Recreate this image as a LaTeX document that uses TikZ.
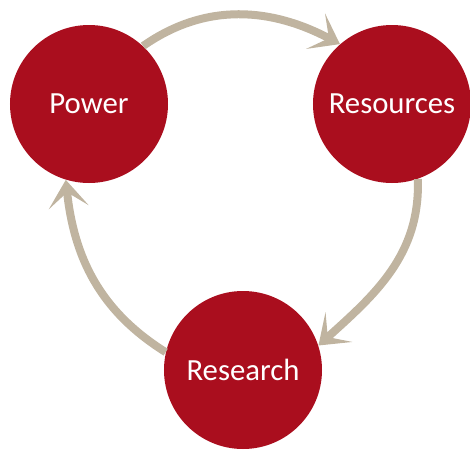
\documentclass[tikz,border=0pt]{standalone}
\usepackage{fontspec}
\setmainfont{Carlito}
\usetikzlibrary{arrows.meta}
\definecolor{cyclered}{RGB}{170,14,30}
\definecolor{cycletan}{RGB}{192,180,160}
\begin{document}
\begin{tikzpicture}[
            circ/.style={circle, fill=cyclered, text=white, minimum size=3.16cm, inner sep=0pt, font=\fontsize{17.5}{20}\selectfont},
            cyclearrow/.style={-{Stealth[length=0.55cm, width=0.8cm, inset=0.3cm]}, line width=0.16cm, draw=cycletan}]
        \useasboundingbox (0,0) rectangle (9.4,9.08);

        \node[circ] (power) at (1.78,7.0) {Power};
        \node[circ] (resources) at (7.84,7.0) {Resources};
        \node[circ] (research) at (4.86,1.68) {Research};

        \draw[cyclearrow] (power.47) to[out=35, in=152] (resources.131);
        \draw[cyclearrow] (resources.-71) to[out=-88, in=42] (research.18);
        \draw[cyclearrow] (research.167) to[out=148, in=-84] (power.-107);
    \end{tikzpicture}
\end{document}
